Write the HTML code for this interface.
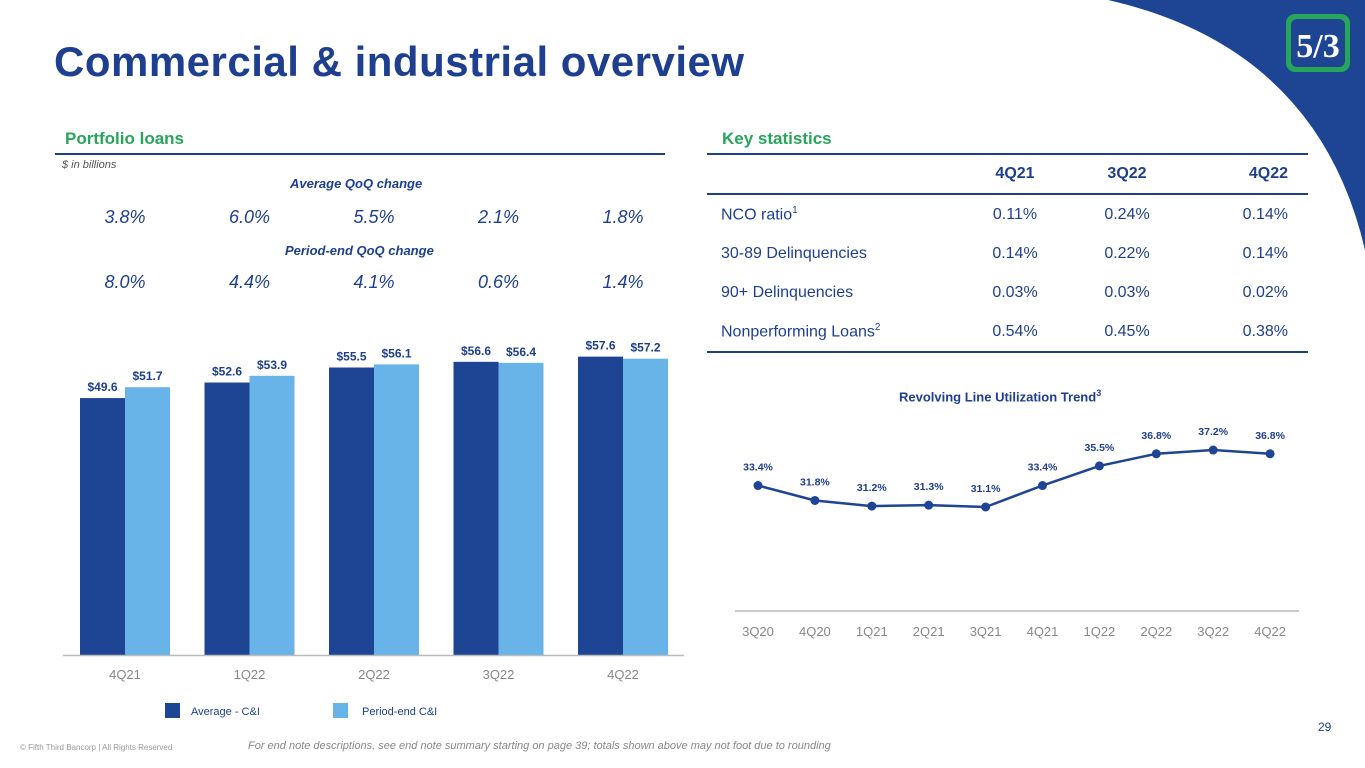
<!DOCTYPE html>
<html><head><meta charset="utf-8"><style>
body{margin:0;width:1365px;height:768px;overflow:hidden;background:#fff;font-family:"Liberation Sans","DejaVu Sans",sans-serif;position:relative}
.a{position:absolute;margin:0}
.dk{color:#1e3f8f}
.it{font-style:italic}
</style></head><body>
<svg class="a" style="left:0;top:0" width="1365" height="768">
<path d="M1108,0 Q1318,48 1365,250 L1365,0 Z" fill="#1e4494"/>
<rect x="1286" y="14" width="64" height="58" rx="9" fill="#27a55a"/>
<rect x="1291" y="19" width="54" height="48" rx="6" fill="#1e4494"/>
<text x="1318" y="57" text-anchor="middle" font-family="Liberation Serif, serif" font-weight="bold" font-size="34" fill="#fff">5/3</text>
</svg>
<h1 class="a dk" style="left:54px;top:38px;font-size:42px;font-weight:bold;letter-spacing:0.5px">Commercial &amp; industrial overview</h1>

<div class="a" style="left:65px;top:129px;color:#27a55a;font-weight:bold;font-size:17px">Portfolio loans</div>
<div class="a" style="left:55px;top:153px;width:610px;border-top:2px solid #1e3f8f"></div>
<div class="a it" style="left:62px;top:159px;font-size:11px;color:#555">$ in billions</div>
<div class="a dk it" style="left:290px;top:176px;font-size:13px;font-weight:bold">Average QoQ change</div>
<div class="a dk it" style="left:285px;top:243px;font-size:13px;font-weight:bold">Period-end QoQ change</div>
<div id="qoq"></div>

<svg id="bars" class="a" style="left:0;top:0" width="700" height="730"></svg>

<div class="a" style="left:722px;top:129px;color:#27a55a;font-weight:bold;font-size:17px">Key statistics</div>
<table class="a dk" style="left:707px;top:153px;width:601px;border-collapse:collapse;font-size:16px">
<tr style="height:40px;border-top:2px solid #1e3f8f;border-bottom:2px solid #1e3f8f;font-weight:bold"><td style="width:250px"></td><td style="text-align:center;width:110px">4Q21</td><td style="text-align:center;width:110px">3Q22</td><td style="text-align:right;padding-right:20px">4Q22</td></tr>
<tr style="height:40px"><td style="padding-left:14px">NCO ratio<sup style="font-size:10px">1</sup></td><td style="text-align:center">0.11%</td><td style="text-align:center">0.24%</td><td style="text-align:right;padding-right:20px">0.14%</td></tr>
<tr style="height:39px"><td style="padding-left:14px">30-89 Delinquencies</td><td style="text-align:center">0.14%</td><td style="text-align:center">0.22%</td><td style="text-align:right;padding-right:20px">0.14%</td></tr>
<tr style="height:39px"><td style="padding-left:14px">90+ Delinquencies</td><td style="text-align:center">0.03%</td><td style="text-align:center">0.03%</td><td style="text-align:right;padding-right:20px">0.02%</td></tr>
<tr style="height:40px;border-bottom:2px solid #1e3f8f"><td style="padding-left:14px">Nonperforming Loans<sup style="font-size:10px">2</sup></td><td style="text-align:center">0.54%</td><td style="text-align:center">0.45%</td><td style="text-align:right;padding-right:20px">0.38%</td></tr>
</table>

<div class="a dk" style="left:899px;top:388px;font-size:13px;font-weight:bold">Revolving Line Utilization Trend<sup style="font-size:9px">3</sup></div>
<svg id="line" class="a" style="left:0;top:0" width="1365" height="660"></svg>

<div class="a" style="left:1318px;top:720px;font-size:12px;color:#1e3f8f">29</div>
<div class="a" style="left:20px;top:743px;font-size:8px;color:#999">© Fifth Third Bancorp | All Rights Reserved</div>
<div class="a it" style="left:248px;top:740px;font-size:11px;color:#888">For end note descriptions, see end note summary starting on page 39; totals shown above may not foot due to rounding</div>

<script>
const barCats=["4Q21","1Q22","2Q22","3Q22","4Q22"];
const avgVals=[49.6,52.6,55.5,56.6,57.6];
const peVals=[51.7,53.9,56.1,56.4,57.2];
const avgQoQ=["3.8%","6.0%","5.5%","2.1%","1.8%"];
const peQoQ=["8.0%","4.4%","4.1%","0.6%","1.4%"];
const lineCats=["3Q20","4Q20","1Q21","2Q21","3Q21","4Q21","1Q22","2Q22","3Q22","4Q22"];
const lineVals=[33.4,31.8,31.2,31.3,31.1,33.4,35.5,36.8,37.2,36.8];

const NS="http://www.w3.org/2000/svg";
function mk(p,t,at,txt){const e=document.createElementNS(NS,t);for(const k in at)e.setAttribute(k,at[k]);if(txt!=null)e.textContent=txt;p.appendChild(e);return e;}

const q=document.getElementById('qoq');
const qx=i=>125+i*124.5;
avgQoQ.forEach((v,i)=>{const d=document.createElement('div');d.className='a dk it';d.style.cssText=`left:${qx(i)-40}px;width:80px;text-align:center;top:207px;font-size:18px`;d.textContent=v;

q.appendChild(d);});
peQoQ.forEach((v,i)=>{const d=document.createElement('div');d.className='a dk it';d.style.cssText=`left:${qx(i)-40}px;width:80px;text-align:center;top:272px;font-size:18px`;d.textContent=v;

q.appendChild(d);});

const bs=document.getElementById('bars');
const base=655,k=5.18,bw=45;
const by=v=>base-v*k, bx=i=>80+i*124.5;
barCats.forEach((c,i)=>{
 let r=mk(bs,'rect',{x:bx(i),y:by(avgVals[i]),width:bw,height:avgVals[i]*k,fill:'#1e4494'});
 
 
 r=mk(bs,'rect',{x:bx(i)+bw,y:by(peVals[i]),width:bw,height:peVals[i]*k,fill:'#68b3e8'});
 
 
 let t=mk(bs,'text',{x:bx(i)+bw/2,y:by(avgVals[i])-7,'text-anchor':'middle','font-size':12,'font-weight':'bold',fill:'#1e3f8f'},'$'+avgVals[i].toFixed(1));
 
 
 t=mk(bs,'text',{x:bx(i)+bw*1.5,y:by(peVals[i])-7,'text-anchor':'middle','font-size':12,'font-weight':'bold',fill:'#1e3f8f'},'$'+peVals[i].toFixed(1));
 
 
 t=mk(bs,'text',{x:bx(i)+bw,y:679,'text-anchor':'middle','font-size':13,fill:'#888'},c);
 
 
});
mk(bs,'line',{x1:63,x2:684,y1:655.5,y2:655.5,stroke:'#bbb','stroke-width':1.5});
let lg=mk(bs,'rect',{x:165,y:703,width:15,height:15,fill:'#1e4494'});


mk(bs,'text',{x:191,y:715,'font-size':11,fill:'#1e3f8f'},'Average - C&I');
lg=mk(bs,'rect',{x:333,y:703,width:15,height:15,fill:'#68b3e8'});


mk(bs,'text',{x:362,y:715,'font-size':11,fill:'#1e3f8f'},'Period-end C&I');

const ls=document.getElementById('line');
const lx=i=>758+i*56.9, ly=v=>507-(v-31.1)*9.34;
mk(ls,'line',{x1:735,x2:1299,y1:611,y2:611,stroke:'#bbb','stroke-width':1.5});
mk(ls,'polyline',{points:lineVals.map((v,i)=>lx(i)+','+ly(v)).join(' '),fill:'none',stroke:'#1e4494','stroke-width':2.5});
lineCats.forEach((c,i)=>{
 let p=mk(ls,'circle',{cx:lx(i),cy:ly(lineVals[i]),r:4.5,fill:'#1e4494'});
 
 
 let t=mk(ls,'text',{x:lx(i),y:ly(lineVals[i])-15,'text-anchor':'middle','font-size':10.5,'font-weight':'bold',fill:'#1e3f8f'},lineVals[i].toFixed(1)+'%');
 
 
 t=mk(ls,'text',{x:lx(i),y:636,'text-anchor':'middle','font-size':13,fill:'#888'},c);
 
 
});
</script>
</body></html>
